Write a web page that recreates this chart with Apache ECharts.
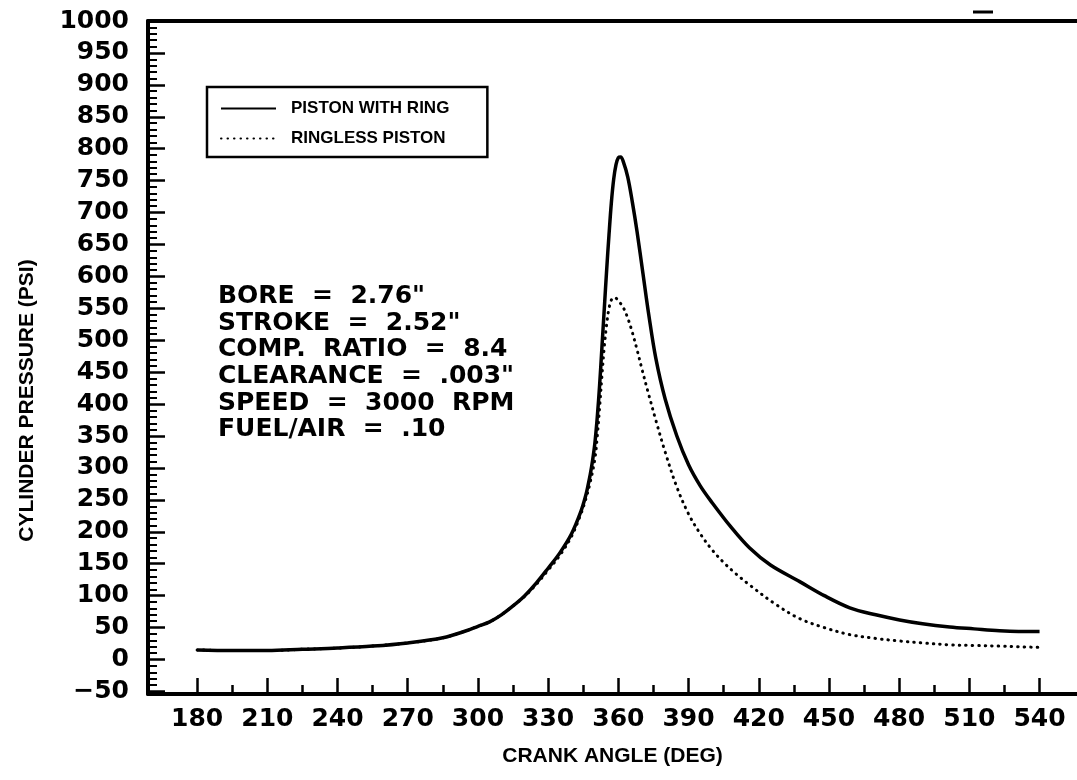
<!DOCTYPE html>
<html><head><meta charset="utf-8">
<script src="https://cdn.jsdelivr.net/npm/echarts@6/dist/echarts.min.js"></script>
<style>html,body{margin:0;padding:0;background:#fff}#c{width:1077px;height:780px}</style>
</head><body><div id="c"></div>
<script>
// ---- data ----
const ringAngles   = [180,195,210,225,240,255,270,285,295,300,305,310,315,320,325,330,335,340,344,346,347,348,349,350,351,352,353,354,355,356,357,358,359,360,361,362,364,366,368,370.5,373,376,380,385,390,395,400,408,416,425,437.5,448,458.9,470,480.2,490,501.6,512,522.9,531,540];
const ringPressure = [15,14,14,16,18,21,26,34,45,52,59,70,84,100,120,143,167,197,232,256,272,290,312,340,380,430,490,550,610,665,715,752,775,786,787,781,756,716,670,605,540,472,408,350,305,272,246,208,175,148,122,100,81,70,62,56,51,48,45,44,44];

const ringlessAngles   = [180,195,210,225,240,255,270,285,295,300,305,310,315,320,325,330,335,340,344,346,348,350,351,352,353,354,355,356,357,358,359,360,362,364,366,368,370,372.6,376,380,385,390,395,400,405,410,416,427,437.5,448,458.9,470,480.2,490,501.6,512,522.9,531,540];
const ringlessPressure = [15,14,14,16,18,21,26,34,45,52,59,70,84,99,118,140,163,193,228,250,278,315,350,395,445,490,525,550,563,567,566,562,552,535,512,485,456,420,375,325,270,228,197,172,152,135,117,87,64,50,39,33,29,26,23,22,21,20,19];

const seriesNames = ['PISTON WITH RING', 'RINGLESS PISTON'];
const xTickLabels = [180,210,240,270,300,330,360,390,420,450,480,510,540];
const xMinorTicks = [195,225,255,285,315,345,375,405,435,465,495,525];
const yTickLabels = [-50,0,50,100,150,200,250,300,350,400,450,500,550,600,650,700,750,800,850,900,950,1000];
const yMinorTicks = [];
for (let v = -50; v <= 1000; v += 10) { if (v % 50 !== 0) yMinorTicks.push(v); }
const notes = ['BORE  =  2.76"', 'STROKE  =  2.52"', 'COMP.  RATIO  =  8.4', 'CLEARANCE  =  .003"', 'SPEED  =  3000  RPM', 'FUEL/AIR  =  .10'];
const xTitle = 'CRANK ANGLE (DEG)';
const yTitle = 'CYLINDER PRESSURE (PSI)';

const zip = (a, b) => a.map((x, i) => [x, b[i]]);
const fmt = v => (v < 0 ? '\u2212' + Math.abs(v) : String(v));

const XMIN = 159, XMAX = 556, YMIN = -54, YMAX = 1000;
const labelFont = { fontFamily: 'DejaVu Sans', fontWeight: 'bold', fontSize: 25, color: '#000' };
const titleFont = { fontFamily: 'Liberation Sans', fontWeight: 'bold', fontSize: 21, color: '#000' };

const chart = echarts.init(document.getElementById('c'), null, { renderer: 'canvas' });
chart.setOption({
  animation: false,
  backgroundColor: '#fff',
  grid: { left: 148, right: 0, top: 21, bottom: 86, containLabel: false, outerBoundsMode: 'none' },
  xAxis: [
    { type: 'value', min: XMIN, max: XMAX, position: 'bottom',
      axisLine: { show: true, onZero: false, lineStyle: { color: '#000', width: 4 } },
      axisTick: { show: true, inside: true, length: 16, lineStyle: { color: '#000', width: 2.5 }, customValues: xTickLabels },
      axisLabel: Object.assign({ show: true, margin: 13, customValues: xTickLabels, formatter: fmt }, labelFont),
      splitLine: { show: false },
      name: xTitle, nameLocation: 'middle', nameGap: 52, nameTextStyle: titleFont },
    { type: 'value', min: XMIN, max: XMAX, position: 'bottom', gridIndex: 0,
      axisLine: { show: false, onZero: false },
      axisTick: { show: true, inside: true, length: 9, lineStyle: { color: '#000', width: 2.5 }, customValues: xMinorTicks },
      axisLabel: { show: false }, splitLine: { show: false } },
    { type: 'value', min: XMIN, max: XMAX, position: 'top', gridIndex: 0,
      axisLine: { show: true, onZero: false, lineStyle: { color: '#000', width: 4 } },
      axisTick: { show: false }, axisLabel: { show: false }, splitLine: { show: false } }
  ],
  yAxis: [
    { type: 'value', min: YMIN, max: YMAX, position: 'left',
      axisLine: { show: true, onZero: false, lineStyle: { color: '#000', width: 4 } },
      axisTick: { show: true, inside: true, length: 17, lineStyle: { color: '#000', width: 2.5 }, customValues: yTickLabels },
      axisLabel: Object.assign({ show: true, margin: 19, customValues: yTickLabels, formatter: fmt }, labelFont),
      splitLine: { show: false },
      name: yTitle, nameLocation: 'middle', nameGap: 110, nameRotate: 90,
      nameTextStyle: Object.assign({ padding: [0, 86, 0, 0] }, titleFont) },
    { type: 'value', min: YMIN, max: YMAX, position: 'left',
      axisLine: { show: false, onZero: false },
      axisTick: { show: true, inside: true, length: 9, lineStyle: { color: '#000', width: 2 }, customValues: yMinorTicks },
      axisLabel: { show: false }, splitLine: { show: false } }
  ],
  legend: {
    show: true, orient: 'vertical', left: 207, top: 87,
    padding: [13, 38, 10, 13], itemGap: 13, itemWidth: 55, itemHeight: 16,
    borderColor: '#000', borderWidth: 2.5, backgroundColor: '#fff',
    itemStyle: { color: 'rgba(0,0,0,0)', borderColor: 'rgba(0,0,0,0)', borderWidth: 0, opacity: 0 },
    textStyle: { fontFamily: 'Liberation Sans', fontWeight: 'bold', fontSize: 17, color: '#000', padding: [0, 0, 0, 10] },
    data: seriesNames
  },
  series: [
    { name: seriesNames[0], type: 'line', xAxisIndex: 0, yAxisIndex: 0,
      data: zip(ringAngles, ringPressure), symbol: 'none', showSymbol: false,
      smooth: 0.35,
      lineStyle: { color: '#000', width: 3.5 }, itemStyle: { color: '#000' } },
    { name: seriesNames[1], type: 'line', xAxisIndex: 0, yAxisIndex: 0,
      data: zip(ringlessAngles, ringlessPressure), symbol: 'none', showSymbol: false,
      smooth: 0.35,
      lineStyle: { color: '#000', width: 3, type: [0.5, 6], cap: 'round' }, itemStyle: { color: '#000' } }
  ],
  graphic: [
    { type: 'text', left: 218, top: 283, silent: true,
      style: { text: notes.join('\n'), fill: '#000', font: 'bold 25px "DejaVu Sans"', lineHeight: 26.7 } },
    { type: 'line', silent: true, shape: { x1: 973, y1: 12, x2: 993, y2: 12 }, style: { stroke: '#000', lineWidth: 3 } }
  ]
});
</script>
</body></html>
